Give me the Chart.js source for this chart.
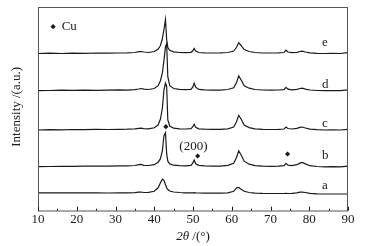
<!DOCTYPE html>
<html><head><meta charset="utf-8">
<script src="https://cdn.jsdelivr.net/npm/chart.js@4/dist/chart.umd.min.js"></script>
<style>html,body{margin:0;padding:0;background:#fff}#wrap{width:365px;height:246px;position:relative}</style>
</head><body><div id="wrap"><canvas id="c"></canvas></div>
<script>
// 2θ grid (degrees) shared by all patterns
const twoTheta = [10,13,16,19,22,25,28,31,33,35,36,36.6,37.3,38.5,40,41,41.6,42.1,42.5,42.9,43.2,43.5,44,45,46.5,48,49.5,50,50.3,50.7,51.5,53,55,57,59,60.5,61.2,61.8,62.4,63.2,64.5,66,68,70,72,73.5,74,74.5,75.5,76.8,77.6,78.2,79,80.2,82,84,86,88,90];
// intensity above each pattern's own baseline (a.u.)
const hA = [0,0,-0.1,0,-0.1,0,-0.2,0,0,0.2,0.6,0.8,0.3,0.4,1.5,5,10,13.7,12.5,8,5,3.2,1.8,0.8,0.3,0,-0.1,0,0.2,0,-0.2,-0.3,-0.4,-0.3,0,1.5,4.8,5.3,3.5,1.5,0.3,-0.3,-0.6,-0.7,-0.7,-0.7,-0.6,-0.7,-0.6,0,0.6,0.7,0.3,-0.5,-1.0,-1.2,-1.2,-1.2,-1.2];
const hB = [0,0.2,0.4,0.3,0.5,0.6,0.5,0.8,0.9,1.2,2.0,2.3,1.4,1.2,2.0,4.5,8,16,31,34,13,5.5,2.8,1.5,1.0,0.8,1.3,4,6.7,3,1.3,0.8,0.6,0.6,1.3,3.5,9,15.7,12,5.5,2.5,1.0,0.5,0.3,0.5,1.0,3.3,1.6,1.0,2.0,3.6,4.3,2.8,1.0,0.2,-0.2,0,-0.2,0.5];
const hC = [0,0.3,0.2,0.5,0.4,0.6,0.5,0.7,0.8,1.2,1.6,1.8,1.4,1.2,2.2,5,11,22,40,47,44,10,4,1.8,1.2,1.0,1.3,3.5,5.7,2.8,1.2,0.8,0.6,0.7,1.2,3,8,14.7,11,5,2.4,1.1,0.6,0.5,0.6,1.0,3.0,1.5,1.0,1.6,2.6,3.0,2.0,0.8,0.3,0,0.1,0,0.6];
const hD = [0,0.2,0.5,0.3,0.5,0.4,0.6,0.8,0.6,1.0,1.7,2.2,1.5,1.2,2.2,5,10,18,30,44,47,14,5,2.2,1.4,1.0,1.4,4,7.5,3.5,1.3,0.8,0.6,0.6,1.2,3,8,14.7,11,5,2.5,1.2,0.7,0.5,0.7,1.0,3.3,1.6,0.8,1.4,2.2,2.5,1.6,0.7,0.2,0,0.1,0,0.8];
const hE = [0,0.3,0,0.4,0.2,0.5,0.3,0.5,0.6,1.0,1.8,2.0,1.5,1.0,2.0,4.5,8,15,24,34,14,6,3.2,1.6,1.0,0.8,1.2,3,5,2.5,1.0,0.6,0.5,0.6,1.0,2.5,6,10.7,8,4,2,1,0.5,0.5,0.6,1.0,3.3,1.5,0.8,1.2,2.0,2.3,1.5,0.6,0.2,0,0.2,0,0.8];
const seriesNames = ['a','b','c','d','e'];
const baselines = [17.9, 44, 80.7, 120, 157.2];
const heights = [hA, hB, hC, hD, hE];
// curve label positions
const labelX = 83.3;
const labelY = [25, 55.4, 87.4, 125.7, 168];
// Cu reflection markers
const cuX = [43.0, 51.2, 74.4];
const cuY = [84, 54.7, 56.7];
const xTicks = [10,20,30,40,50,60,70,80,90];
const yMin = 0, yMax = 203.7;

const INK = '#1a1a1a';
const SERIF = '"Liberation Serif","Times New Roman",serif';

const datasets = seriesNames.map((n,k)=>({
  label: n,
  data: twoTheta.map((x,i)=>({x, y: baselines[k] + heights[k][i]})),
  showLine: true,
  borderColor: INK, borderWidth: 1.2, pointRadius: 0, tension: 0, fill: false
}));
datasets.push({
  label: 'Cu',
  data: cuX.map((x,i)=>({x, y: cuY[i]})),
  showLine: false, pointStyle: 'rectRot', pointRadius: 2.6,
  backgroundColor: INK, borderColor: INK, borderWidth: 0
});
datasets.push({
  label: 'CuLegend',
  data: [{x: 13.9, y: 184}],
  showLine: false, pointStyle: 'rectRot', pointRadius: 2.6,
  backgroundColor: INK, borderColor: INK, borderWidth: 0
});

const deco = {
  id: 'deco',
  afterDraw(chart) {
    const {ctx, chartArea: ca, scales: {x, y}} = chart;
    ctx.save();
    // frame
    ctx.strokeStyle = '#555'; ctx.lineWidth = 1;
    ctx.strokeRect(Math.round(ca.left)+0.5, Math.round(ca.top)+0.5, Math.round(ca.right-ca.left)-1, Math.round(ca.bottom-ca.top)-0.5);
    // inward ticks
    ctx.strokeStyle = INK;
    ctx.beginPath();
    for (let v = 10; v <= 90; v += 5) {
      const px = Math.round(x.getPixelForValue(v)) + 0.5;
      const len = (v % 10 === 0) ? 4 : 2;
      ctx.moveTo(px, ca.bottom); ctx.lineTo(px, ca.bottom - len);
    }
    ctx.stroke();
    ctx.fillStyle = INK;
    ctx.font = '13px ' + SERIF;
    ctx.textBaseline = 'middle';
    ctx.textAlign = 'left';
    labelY.forEach((ly, k) => {
      ctx.fillText(seriesNames[k], x.getPixelForValue(labelX), y.getPixelForValue(ly));
    });
    ctx.fillText('Cu', x.getPixelForValue(16.1), y.getPixelForValue(184));
    ctx.textAlign = 'center';
    ctx.fillText('(200)', x.getPixelForValue(50.1), y.getPixelForValue(64));
    // x title: 2θ /(°)
    const tY = 237;
    const p1 = '2\u03B8';
    ctx.font = 'italic 13px ' + SERIF;
    const w1 = ctx.measureText(p1).width;
    ctx.font = '13px ' + SERIF;
    const p2 = ' /(\u00B0)';
    const w2 = ctx.measureText(p2).width;
    const cx = (ca.left + ca.right) / 2;
    let sx = cx - (w1 + w2) / 2;
    ctx.textAlign = 'left';
    ctx.font = 'italic 13px ' + SERIF;
    ctx.fillText(p1, sx, tY);
    ctx.font = '13px ' + SERIF;
    ctx.fillText(p2, sx + w1, tY);
    // y title
    ctx.translate(17, (ca.top + ca.bottom) / 2 - 2);
    ctx.rotate(-Math.PI / 2);
    ctx.textAlign = 'center';
    ctx.fillText('Intensity /(a.u.)', 0, 0);
    ctx.restore();
  }
};

new Chart(document.getElementById('c'), {
  type: 'scatter',
  data: { datasets },
  options: {
    responsive: true, maintainAspectRatio: false, animation: false,
    layout: { padding: { left: 38, right: 17, top: 7, bottom: 0 } },
    plugins: { legend: { display: false }, tooltip: { enabled: false } },
    scales: {
      x: {
        type: 'linear', min: 10, max: 90,
        afterBuildTicks: s => { s.ticks = xTicks.map(v => ({value: v})); },
        afterFit: s => { s.height = 35.3; },
        grid: { display: false, drawTicks: false },
        border: { display: false },
        ticks: { color: INK, font: { family: SERIF, size: 13 }, padding: 1, maxRotation: 0 }
      },
      y: {
        type: 'linear', min: yMin, max: yMax, display: false
      }
    }
  },
  plugins: [deco]
});
</script>
</body></html>
